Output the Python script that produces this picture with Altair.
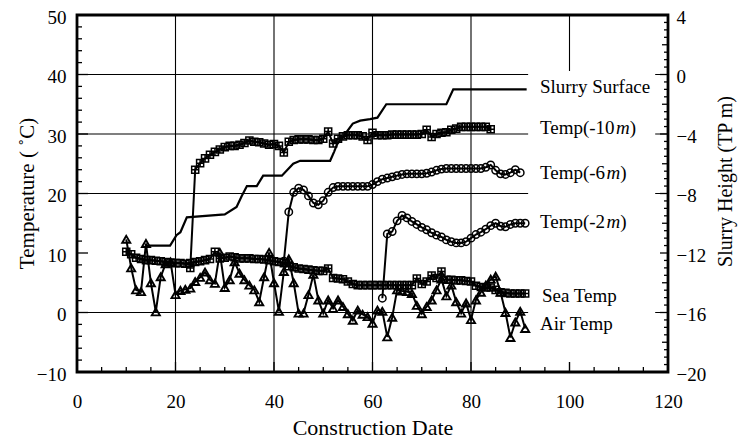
import altair as alt
import pandas as pd
import numpy as np

FONT = "Liberation Serif"

# ---------------- daily records (construction day, deg C) ----------------
sea_days = list(range(10, 92))
sea_temp = [10.2, 9.8, 9.2, 9.0, 8.8, 8.8, 8.7, 8.6, 8.5, 8.4,
            8.3, 8.3, 8.2, 8.3, 8.5, 8.6, 8.8, 9.0, 10.2, 9.1,
            9.2, 9.4, 9.3, 9.1, 9.1, 9.1, 9.0, 9.0, 8.9, 8.8,
            8.6, 8.5, 8.3, 7.8, 7.6, 7.4, 7.3, 7.2, 7.1, 7.0,
            7.0, 7.4, 5.8, 5.7, 5.6, 5.2, 4.8, 4.6, 4.6, 4.6,
            4.6, 4.6, 4.6, 4.6, 4.6, 4.6, 4.6, 4.6, 4.6, 5.7,
            4.8, 5.2, 6.2, 5.8, 6.9, 5.5, 5.5, 5.4, 5.4, 5.3,
            5.2, 4.5, 4.3, 4.2, 4.2, 3.8, 3.4, 3.3, 3.2, 3.2,
            3.2, 3.2]

air_days = list(range(10, 92))
air_temp = [12.3, 7.5, 3.8, 3.5, 11.6, 5.0, 0.1, 6.0, 8.2, 8.5,
            3.0, 3.7, 3.9, 4.1, 5.2, 5.9, 6.8, 5.5, 4.9, 10.1,
            4.2, 5.5, 8.5, 6.6, 5.5, 4.6, 3.8, 1.8, 6.0, 10.1,
            5.0, 0.2, 6.9, 9.0, 5.0, -0.1, -0.1, 3.0, 6.4, 2.1,
            -0.1, 2.1, 0.7, 2.1, 1.0, -0.2, -1.3, 0.4, -0.3, -0.7,
            -1.8, 0.4, 0.2, -4.1, -0.8, 3.8, 3.6, 3.5, 3.2, 1.2,
            -0.2, 1.0, 2.1, 3.8, 5.6, 2.8, 4.6, 1.8, -0.1, 1.6,
            -1.2, 2.1, 3.4, 4.6, 5.6, 6.1, 3.4, 0.0, -4.2, -1.6,
            0.2, -2.7]

t10_days = list(range(23, 85))
t10_temp = [7.5, 24.0, 25.1, 25.9, 26.5, 27.0, 27.4, 27.8, 28.0, 28.0,
            28.2, 28.5, 28.9, 28.7, 28.6, 28.4, 28.2, 28.3, 28.0, 26.9,
            28.7, 29.0, 29.1, 29.1, 29.1, 29.0, 29.0, 29.2, 30.4, 28.4,
            29.2, 29.6, 29.8, 29.8, 29.8, 29.6, 29.0, 30.2, 29.8, 29.8,
            29.8, 29.9, 29.9, 29.9, 29.9, 29.9, 29.9, 30.0, 30.7, 29.5,
            30.0, 30.2, 30.3, 30.7, 30.9, 31.2, 31.2, 31.2, 31.2, 31.2,
            31.2, 30.8]

t6_days = list(range(42, 91))
t6_temp = [8.6, 16.9, 20.2, 20.9, 20.6, 19.6, 18.4, 18.1, 18.8, 20.2,
           21.0, 21.2, 21.2, 21.2, 21.2, 21.2, 21.2, 21.2, 21.5, 22.0,
           22.4, 22.6, 22.8, 23.0, 23.2, 23.3, 23.3, 23.3, 23.3, 23.4,
           23.6, 23.9, 24.1, 24.2, 24.2, 24.2, 24.2, 24.2, 24.2, 24.2,
           24.2, 24.4, 24.8, 23.9, 23.3, 23.2, 23.5, 24.0, 23.5]

t2_days = list(range(62, 92))
t2_temp = [2.4, 13.2, 13.6, 15.4, 16.3, 15.9, 15.3, 14.8, 14.3, 13.9,
           13.4, 13.0, 12.7, 12.2, 11.9, 11.7, 11.7, 11.9, 12.5, 13.1,
           13.5, 14.0, 14.6, 15.0, 14.5, 14.4, 14.8, 15.0, 15.0, 15.0]

# slurry surface level (TP m), right-hand axis
slurry_days = [14.1, 18.9, 20.2, 21.0, 22.3, 30.0, 32.4, 33.4, 34.5, 36.5,
               37.8, 41.6, 43.9, 45.3, 51.4, 52.2, 52.8, 54.0, 56.0, 57.5,
               59.5, 61.0, 62.8, 75.0, 76.4, 91.3]
slurry_level = [-11.5, -11.5, -10.8, -10.6, -9.6, -9.4, -8.9, -8.2, -7.5, -7.5,
                -6.8, -6.8, -6.0, -5.8, -5.8, -5.2, -4.7, -4.2, -3.3, -3.1,
                -3.0, -2.9, -2.0, -2.0, -1.0, -1.0]

# axis tick labels
x_ticks = [0, 20, 40, 60, 80, 100, 120]
left_ticks = [-10, 0, 10, 20, 30, 40, 50]
right_ticks = [-20, -16, -12, -8, -4, 0, 4]
h_grid = [0, 20, 30, 40]
v_grid = [20, 40, 60, 80, 100]

# series labels at the right-hand end of the curves
label_rows = [
    ("Slurry Surface", "", "", 36.84),
    ("Sea Temp", "", "", 1.7),
    ("Air Temp", "", "", -2.9),
    ("Temp(-10", "m", ")", 30.0),
    ("Temp(-6", "m", ")", 22.4),
    ("Temp(-2", "m", ")", 14.15),
]

# ---------------- layout ----------------
W, H = 591, 357
PX_DAY = W / 120
PX_DEG = H / 60
FS_LABEL = 19

X_SCALE = alt.Scale(domain=[0, 120], nice=False, zero=False)
YL_SCALE = alt.Scale(domain=[-10, 50], nice=False, zero=False)
YR_SCALE = alt.Scale(domain=[-20, 4], nice=False, zero=False)

X_AXIS = alt.Axis(values=x_ticks, ticks=False, domain=False, grid=False,
                  labelFont=FONT, labelFontSize=19, labelColor="black",
                  labelPadding=20, labelFlush=False, labelOverlap=False,
                  title="Construction Date", titleFont=FONT, titleFontSize=22,
                  titleFontWeight="normal", titleColor="black",
                  titleBaseline="middle", titleY=55)
YL_AXIS = alt.Axis(orient="left", values=left_ticks, ticks=False, domain=False,
                   grid=False, labelFont=FONT, labelFontSize=19, labelColor="black",
                   labelPadding=11, labelOffset=2, labelOverlap=False, labelFlush=False,
                   title="Temperature  ( ˚C)", titleFont=FONT, titleFontSize=21,
                   titleFontWeight="normal", titleColor="black", titleAngle=270,
                   titleBaseline="middle", titleX=-50, titleY=178)
YR_AXIS = alt.Axis(orient="right", values=right_ticks, ticks=False, domain=False,
                   grid=False, labelFont=FONT, labelFontSize=19, labelColor="black",
                   labelPadding=8, labelOffset=2, labelOverlap=False, labelFlush=False,
                   title="Slurry Height (TP m)", titleFont=FONT, titleFontSize=20,
                   titleFontWeight="normal", titleColor="black", titleAngle=270,
                   titleBaseline="middle", titleX=57, titleY=166)


def X(field="d"):
    return alt.X(f"{field}:Q", scale=X_SCALE, axis=X_AXIS)


def YL(field="T"):
    return alt.Y(f"{field}:Q", scale=YL_SCALE, axis=YL_AXIS)


def YR(field="r"):
    return alt.Y(f"{field}:Q", scale=YR_SCALE, axis=YR_AXIS)


def frame(days, temps):
    return pd.DataFrame({"d": days, "T": temps})


SQUARE_GRID = "M-1,-1L1,-1L1,1L-1,1Z M0,-1L0,1 M-1,0L1,0"


def series(df, shape, size, sw=1.5):
    base = alt.Chart(df).encode(x=X(), y=YL())
    line = base.mark_line(color="black", strokeWidth=2)
    pts = base.mark_point(shape=shape, size=size, filled=False, color="black",
                          strokeWidth=sw, opacity=1)
    return [line, pts]


# gridlines
hgrid = alt.Chart(pd.DataFrame({"T": h_grid})).mark_rule(
    color="black", strokeWidth=1.1).encode(y=YL())
vgrid = alt.Chart(pd.DataFrame({"d": v_grid})).mark_rule(
    color="black", strokeWidth=1.1).encode(x=X())

# blank panel behind the series names
mask = alt.Chart(pd.DataFrame({"d": [91.6], "d2": [117.4], "T": [-8.3], "T2": [40.6]})
                 ).mark_rect(color="white").encode(
    x=X(), x2=alt.X2("d2"), y=YL(), y2=alt.Y2("T2"))

# inward ticks on the bottom and left edges
bt = np.arange(5, 120, 5)
bottom_ticks = pd.DataFrame({
    "d": bt, "T": -10.0,
    "T2": [-10 + (10 if v % 20 == 0 else 5) / PX_DEG for v in bt]})
lt = np.arange(-8, 50, 2)
left_tick_df = pd.DataFrame({
    "T": lt, "d": 0.0,
    "d2": [(11 if v % 10 == 0 else 5) / PX_DAY for v in lt]})
bticks = alt.Chart(bottom_ticks).mark_rule(color="black", strokeWidth=1.3).encode(
    x=X(), y=YL(), y2=alt.Y2("T2"))
lticks = alt.Chart(left_tick_df).mark_rule(color="black", strokeWidth=1.3).encode(
    x=X(), x2=alt.X2("d2"), y=YL())

# series names (italic "m" for depth)
LX = 94.0
reg_rows, ital_rows, close_rows = [], [], []
for pre, ital, close, t in label_rows:
    x0 = LX + (0.4 if pre == "Sea Temp" else 0.0)
    reg_rows.append({"d": x0, "T": t, "txt": pre})
    if ital:
        pre_w = (3999 if "10" in pre else 3499) / 1000 * FS_LABEL
        m_w = 722 / 1000 * FS_LABEL
        ital_rows.append({"d": x0 + pre_w / PX_DAY, "T": t, "txt": ital})
        close_rows.append({"d": x0 + (pre_w + m_w) / PX_DAY, "T": t, "txt": close})


def text_layer(rows, style="normal"):
    return alt.Chart(pd.DataFrame(rows)).mark_text(
        align="left", baseline="alphabetic", font=FONT, fontSize=FS_LABEL,
        fontStyle=style, color="black").encode(x=X(), y=YL(), text="txt:N")


left_layers = [hgrid, vgrid, mask]
left_layers += series(frame(sea_days, sea_temp), SQUARE_GRID, 50)
left_layers += series(frame(air_days, air_temp), "triangle-up", 65, 1.9)
left_layers += series(frame(t10_days, t10_temp), SQUARE_GRID, 50)
left_layers += series(frame(t6_days, t6_temp), "circle", 55)
left_layers += series(frame(t2_days, t2_temp), "circle", 55)
left_layers += [bticks, lticks,
                text_layer(reg_rows), text_layer(ital_rows, "italic"),
                text_layer(close_rows)]
left = alt.layer(*left_layers)

# right-hand (slurry level) panel
slurry = alt.Chart(pd.DataFrame({"d": slurry_days, "r": slurry_level})).mark_line(
    color="black", strokeWidth=2.2).encode(x=X(), y=YR())
rt = np.arange(-19.5, 4, 0.5)
right_tick_df = pd.DataFrame({
    "r": rt, "d2": 120.0,
    "d": [120 - (8 if v % 4 == 0 else (6 if v % 2 == 0 else 4)) / PX_DAY for v in rt]})
rticks = alt.Chart(right_tick_df).mark_rule(color="black", strokeWidth=1.3).encode(
    x=X(), x2=alt.X2("d2"), y=YR())
right = alt.layer(slurry, rticks)

chart = alt.layer(left, right).resolve_scale(y="independent").properties(
    width=W, height=H,
    autosize=alt.AutoSizeParams(type="none"),
    padding={"left": 77, "top": 15, "right": 76, "bottom": 67},
    background="white",
).configure_view(stroke="black", strokeWidth=2.8)

chart.save("out.html", embed_options={"renderer": "svg", "actions": False})
